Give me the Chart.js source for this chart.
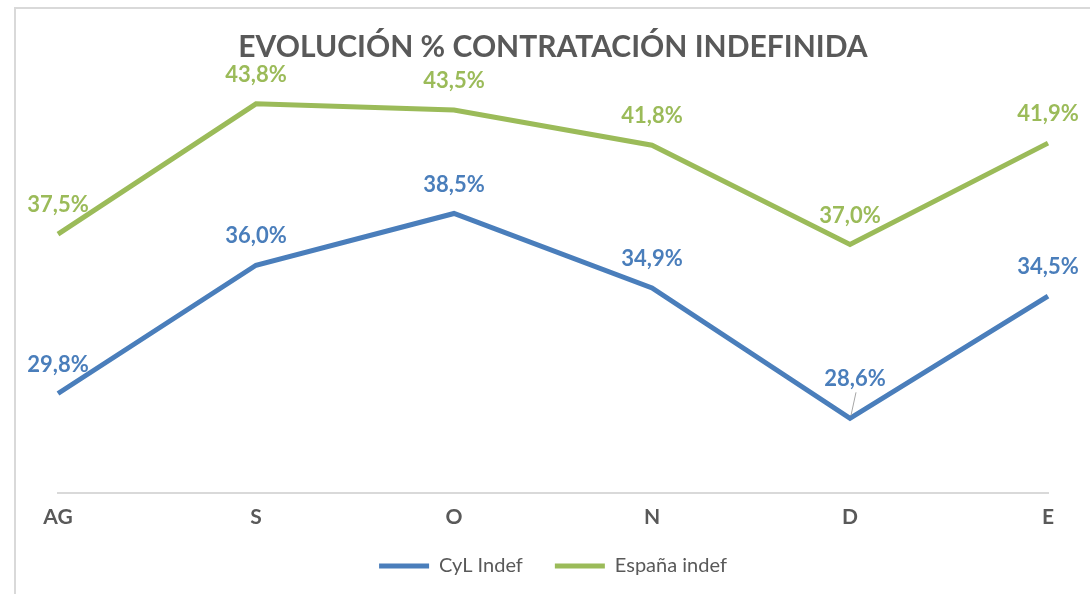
<!DOCTYPE html>
<html>
<head>
<meta charset="utf-8">
<script src="https://cdn.jsdelivr.net/npm/chart.js@4.4.1/dist/chart.umd.min.js"></script>
<style>
    html, body { margin: 0; padding: 0; background: #fff; }
    #wrap { width: 1090px; height: 594px; }
</style>
</head>
<body>
<div id="wrap"><canvas id="chart" width="1090" height="594"></canvas></div>
<script>
const months = ['AG', 'S', 'O', 'N', 'D', 'E'];
const cylIndef = [29.8, 36.0, 38.5, 34.9, 28.6, 34.5];
const espanaIndef = [37.5, 43.8, 43.5, 41.8, 37.0, 41.9];

const BLUE = '#4a7ebb';
const GREEN = '#9bbb59';
const GREY = '#595959';
const FONT = 'Lato, "Open Sans", sans-serif';

const fmt = v => v.toFixed(1).replace('.', ',') + '%';

// frame around the chart, like the Excel chart border
const framePlugin = {
    id: 'frame',
    beforeDraw(chart) {
        const ctx = chart.ctx;
        ctx.save();
        ctx.strokeStyle = '#d9d9d9';
        ctx.lineWidth = 2;
        ctx.strokeRect(15, 8, 1200, 700);
        ctx.restore();
    }
};

// value labels above each point
const valueLabels = {
    id: 'valueLabels',
    afterDatasetsDraw(chart, args, opts) {
        const ctx = chart.ctx;
        ctx.save();
        ctx.font = 'bold 22px ' + FONT;
        ctx.textAlign = 'center';
        ctx.textBaseline = 'middle';
        chart.data.datasets.forEach((ds, i) => {
            const meta = chart.getDatasetMeta(i);
            meta.data.forEach((pt, j) => {
                const moved = opts.moved[i + ':' + j];
                let x = pt.x, y = pt.y - 29;
                if (moved) {
                    x += moved.dx;
                    y = pt.y - moved.dy;
                    ctx.strokeStyle = '#a6a6a6';
                    ctx.lineWidth = 1;
                    ctx.beginPath();
                    ctx.moveTo(pt.x + 1, pt.y - 3);
                    ctx.lineTo(pt.x + 6, y + 13);
                    ctx.stroke();
                }
                ctx.fillStyle = ds.borderColor;
                ctx.fillText(fmt(ds.data[j]), x, y);
            });
        });
        ctx.restore();
    }
};

new Chart(document.getElementById('chart'), {
    type: 'line',
    data: {
        labels: months,
        datasets: [{
            label: 'CyL Indef',
            data: cylIndef,
            borderColor: BLUE,
            backgroundColor: BLUE,
            borderWidth: 5,
            pointRadius: 0,
            tension: 0
        }, {
            label: 'España indef',
            data: espanaIndef,
            borderColor: GREEN,
            backgroundColor: GREEN,
            borderWidth: 5,
            pointRadius: 0,
            tension: 0
        }]
    },
    options: {
        responsive: false,
        animation: false,
        layout: { padding: { left: 58, right: 42, top: 20, bottom: 8 } },
        scales: {
            x: {
                offset: false,
                grid: { display: false, drawTicks: false },
                border: { display: true, color: '#d9d9d9', width: 2 },
                ticks: { color: GREY, font: { family: FONT, size: 21, weight: 'bold' }, padding: 12 },
                afterFit(scale) { scale.height -= 18; }
            },
            y: {
                display: false,
                min: 25,
                max: 45
            }
        },
        plugins: {
            title: {
                display: true,
                text: 'EVOLUCIÓN % CONTRATACIÓN INDEFINIDA',
                color: GREY,
                font: { family: FONT, size: 30, weight: 'bold' },
                padding: { top: 9, bottom: 14 }
            },
            legend: {
                position: 'bottom',
                labels: {
                    color: GREY,
                    font: { family: FONT, size: 20 },
                    usePointStyle: true,
                    pointStyle: 'line',
                    pointStyleWidth: 50,
                    padding: 32
                }
            },
            tooltip: { enabled: false },
            valueLabels: {
                moved: { '0:4': { dx: 5, dy: 39 } }
            }
        }
    },
    plugins: [framePlugin, valueLabels]
});
</script>
</body>
</html>
